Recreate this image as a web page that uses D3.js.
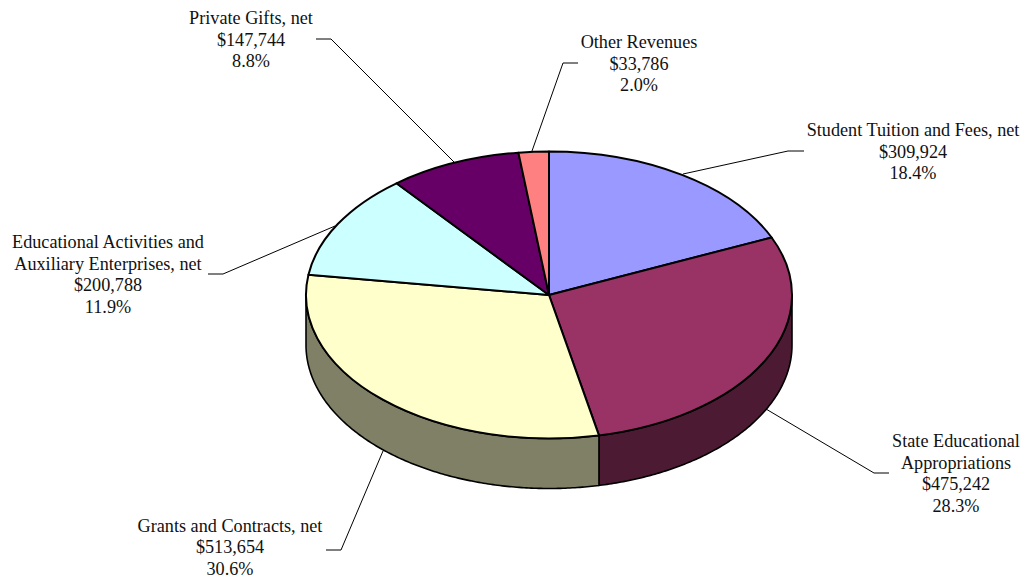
<!DOCTYPE html>
<html>
<head>
    <title>Revenues pie</title>
    <script src="https://d3js.org/d3.v7.min.js"></script>
    <style>
        html, body { margin: 0; padding: 0; background: #fff; }
        svg { display: block; }
        text { font-family: "Liberation Serif", serif; font-size: 18.2px; fill: #111; }
    </style>
</head>
<body>
    <script>
        const categories = [
            "Student Tuition and Fees, net",
            "State Educational Appropriations",
            "Grants and Contracts, net",
            "Educational Activities and Auxiliary Enterprises, net",
            "Private Gifts, net",
            "Other Revenues"
        ];
        const values = [309924, 475242, 513654, 200788, 147744, 33786];
        const moneyLabels = ["$309,924", "$475,242", "$513,654", "$200,788", "$147,744", "$33,786"];
        const percentLabels = ["18.4%", "28.3%", "30.6%", "11.9%", "8.8%", "2.0%"];
        const labelLines = [
            ["Student Tuition and Fees, net"],
            ["State Educational", "Appropriations"],
            ["Grants and Contracts, net"],
            ["Educational Activities and", "Auxiliary Enterprises, net"],
            ["Private Gifts, net"],
            ["Other Revenues"]
        ];
        const topColors = ["#9999ff", "#993366", "#ffffcc", "#ccffff", "#660066", "#ff8080"];
        const sideColors = ["#4d4d80", "#4d1a33", "#808066", "#668080", "#330033", "#804040"];

        const width = 1026, height = 579;
        const cx = 549, cy = 295, rx = 243, ry = 143.5, depth = 50;

        const svg = d3.select("body")
          .append("svg")
            .attr("width", width)
            .attr("height", height);

        const pie = d3.pie().sort(null).value(d => d);
        const arcs = pie(values);

        // point on the rim, angle measured clockwise from the top
        const rim = (a, drop) => [cx + rx * Math.sin(a), cy - ry * Math.cos(a) + drop];
        const line = d3.line();

        // side wall, only the front half of the ellipse shows
        arcs.forEach((d, i) => {
            const a0 = Math.max(d.startAngle, Math.PI / 2);
            const a1 = Math.min(d.endAngle, Math.PI * 1.5);
            if (a1 <= a0) return;
            const steps = d3.range(a0, a1, 0.01).concat([a1]);
            const upper = steps.map(a => rim(a, 0));
            const lower = steps.slice().reverse().map(a => rim(a, depth));
            svg.append("path")
                .attr("d", line(upper.concat(lower)) + "Z")
                .attr("fill", sideColors[i])
                .attr("stroke", "#000")
                .attr("stroke-width", 1.6)
                .attr("stroke-linejoin", "round");
        });

        // top face, a flat d3 arc squashed into an ellipse
        const arc = d3.arc().innerRadius(0).outerRadius(rx);
        svg.append("g")
            .attr("transform", `translate(${cx},${cy}) scale(1,${ry / rx})`)
          .selectAll("path")
          .data(arcs)
          .enter()
          .append("path")
            .attr("d", arc)
            .attr("fill", (d, i) => topColors[i])
            .attr("stroke", "#000")
            .attr("stroke-width", 2)
            .attr("stroke-linejoin", "round")
            .attr("vector-effect", "non-scaling-stroke");

        // leader lines: from the label elbow to the pie edge
        const leaderLines = [
            [[804, 151], [788, 151], [683, 174]],
            [[889, 473], [874, 473], [766, 409]],
            [[326, 550], [341, 550], [383, 451]],
            [[208, 274], [223, 274], [335, 226]],
            [[316, 39], [331, 39], [454, 162]],
            [[578, 63], [563, 63], [532, 151]]
        ];
        svg.append("g")
          .selectAll("path")
          .data(leaderLines)
          .enter()
          .append("path")
            .attr("d", d => line(d))
            .attr("fill", "none")
            .attr("stroke", "#000")
            .attr("stroke-width", 1);

        // labels: centre x and baseline of the first line
        const labelPos = [
            [913, 136],
            [956, 447],
            [230, 531.8],
            [108, 248],
            [251, 24],
            [639, 48]
        ];
        const lineStep = 21.6;
        categories.forEach((c, i) => {
            const rows = labelLines[i].concat([moneyLabels[i], percentLabels[i]]);
            svg.append("text")
                .attr("text-anchor", "middle")
                .selectAll("tspan")
                .data(rows)
                .enter()
                .append("tspan")
                  .attr("x", labelPos[i][0])
                  .attr("y", (d, j) => labelPos[i][1] + j * lineStep)
                  .text(d => d);
        });
    </script>
</body>
</html>
